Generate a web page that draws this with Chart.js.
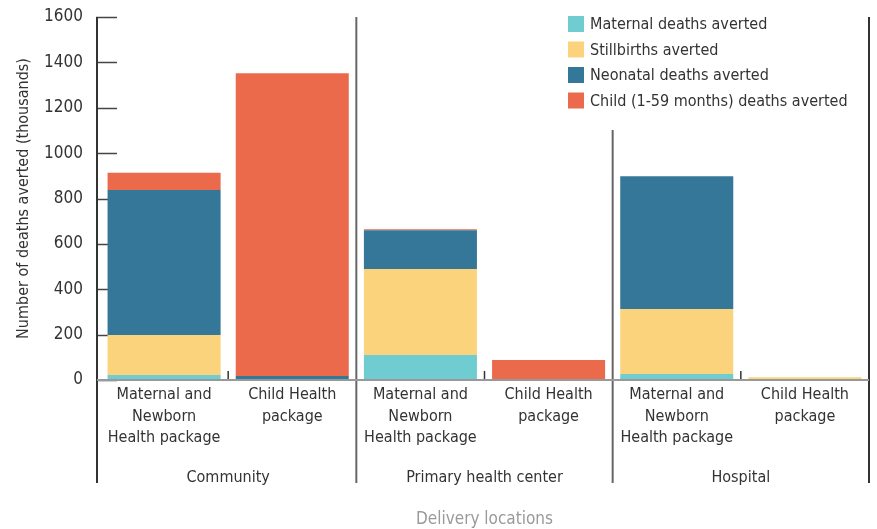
<!DOCTYPE html>
<html>
<head>
<meta charset="utf-8">
<script src="https://cdn.jsdelivr.net/npm/chart.js@4.4.1/dist/chart.umd.min.js"></script>
<style>
  html, body { margin: 0; padding: 0; background: #fff; }
  #wrap { width: 877px; height: 529px; }
</style>
</head>
<body>
<div id="wrap"><canvas id="deathsChart"></canvas></div>
<script>
// datos (miles)
const categories = [
    ['Maternal and', 'Newborn', 'Health package'], ['Child Health', 'package'],
    ['Maternal and', 'Newborn', 'Health package'], ['Child Health', 'package'],
    ['Maternal and', 'Newborn', 'Health package'], ['Child Health', 'package']
];
const groups = ['Community', 'Primary health center', 'Hospital'];
const maternal = [22, 0, 110, 0, 26, 0];
const stillbirths = [176, 0, 379, 0, 287, 12];
const neonatal = [639, 18, 171, 0, 585, 0];
const child = [76, 1334, 5, 88, 0, 0];
const yTicks = [0, 200, 400, 600, 800, 1000, 1200, 1400, 1600];

const FONT = "'DejaVu Sans Condensed', 'DejaVu Sans', sans-serif";
const TXT = '#333333';

// lineas del eje, separadores de grupo y marcas
const axisLines = {
    id: 'axisLines',
    beforeDatasetsDraw(chart) {
        const c = chart.ctx, x = chart.scales.x, y = chart.scales.y;
        const area = chart.chartArea;
        c.save();
        // marcas del eje y hacia adentro
        c.strokeStyle = '#444';
        c.lineWidth = 1.5;
        yTicks.forEach(v => {
            const py = Math.round(y.getPixelForValue(v)) + 0.5;
            c.beginPath();
            c.moveTo(96, py);
            c.lineTo(117, py);
            c.stroke();
        });
        // eje y
        c.lineWidth = 2;
        c.strokeStyle = '#333';
        c.beginPath();
        c.moveTo(97, area.top);
        c.lineTo(97, 483);
        c.stroke();
        // separadores
        for (let i = 0; i < categories.length; i++) {
            const bx = i < categories.length - 1
                ? (x.getPixelForValue(i) + x.getPixelForValue(i + 1)) / 2
                : area.right;
            if (i % 2 === 1) {
                c.strokeStyle = i === categories.length - 1 ? '#333' : '#666';
                c.lineWidth = 2;
                c.beginPath();
                c.moveTo(bx, area.top);
                c.lineTo(bx, 483);
                c.stroke();
            } else {
                c.strokeStyle = '#333';
                c.lineWidth = 1.5;
                c.beginPath();
                c.moveTo(bx, area.bottom);
                c.lineTo(bx, area.bottom - 9);
                c.stroke();
            }
        }
        c.restore();
    },
    afterDatasetsDraw(chart) {
        const c = chart.ctx, area = chart.chartArea;
        c.save();
        // linea base
        c.strokeStyle = '#999';
        c.lineWidth = 2;
        c.beginPath();
        c.moveTo(97, area.bottom);
        c.lineTo(area.right, area.bottom);
        c.stroke();
        // leyenda
        c.fillStyle = '#fff';
        c.fillRect(560, 8, 302, 122);
        c.font = '16px ' + FONT;
        c.textBaseline = 'middle';
        chart.data.datasets.forEach((ds, i) => {
            const cy = 24 + i * 25.5;
            c.fillStyle = ds.backgroundColor;
            c.fillRect(568, cy - 8, 16, 16);
            c.fillStyle = TXT;
            c.fillText(ds.label, 590, cy + 1);
        });
        c.restore();
    }
};

const ctx = document.getElementById('deathsChart').getContext('2d');
const deathsChart = new Chart(ctx, {
    type: 'bar',
    data: {
        labels: categories,
        datasets: [
            { label: 'Maternal deaths averted', data: maternal, backgroundColor: '#6fccd0' },
            { label: 'Stillbirths averted', data: stillbirths, backgroundColor: '#fbd37c' },
            { label: 'Neonatal deaths averted', data: neonatal, backgroundColor: '#347798' },
            { label: 'Child (1-59 months) deaths averted', data: child, backgroundColor: '#ec6a4c' }
        ]
    },
    options: {
        responsive: true,
        maintainAspectRatio: false,
        animation: false,
        layout: { padding: { top: 17, right: 8, bottom: 0, left: 0 } },
        datasets: { bar: { categoryPercentage: 1, barPercentage: 0.882, borderWidth: 0 } },
        plugins: { legend: { display: false }, tooltip: { enabled: false } },
        scales: {
            x: {
                stacked: true,
                grid: { display: false, drawTicks: false },
                border: { display: false },
                ticks: {
                    color: TXT, maxRotation: 0, autoSkip: false, padding: 4,
                    font: { family: FONT, size: 16, lineHeight: 1.35 }
                },
                afterFit: s => { s.height = 70; }
            },
            x2: {
                type: 'category',
                labels: groups,
                position: 'bottom',
                offset: true,
                grid: { display: false, drawTicks: false },
                border: { display: false },
                ticks: {
                    color: TXT, maxRotation: 0, autoSkip: false, padding: 17,
                    font: { family: FONT, size: 16, lineHeight: 1.35 }
                },
                title: {
                    display: true, text: 'Delivery locations', color: '#9a9a9a',
                    padding: { top: 0, bottom: 0 },
                    font: { family: FONT, size: 17, lineHeight: 1.1 }
                },
                afterFit: s => { s.height = 79; }
            },
            y: {
                stacked: true,
                min: 0,
                max: 1600,
                grid: { display: false, drawTicks: false },
                border: { display: false },
                ticks: {
                    stepSize: 200, color: TXT, padding: 17,
                    callback: v => String(v),
                    font: { family: FONT, size: 17 }
                },
                title: {
                    display: true, text: 'Number of deaths averted (thousands)', color: TXT,
                    padding: { top: 14, bottom: 0 },
                    font: { family: FONT, size: 16, lineHeight: 1.2 }
                },
                afterFit: s => {
                    s.width = 100;
                    s.paddingTop = 0;
                    s.paddingBottom = 0;
                }
            }
        }
    },
    plugins: [axisLines]
});
</script>
</body>
</html>
